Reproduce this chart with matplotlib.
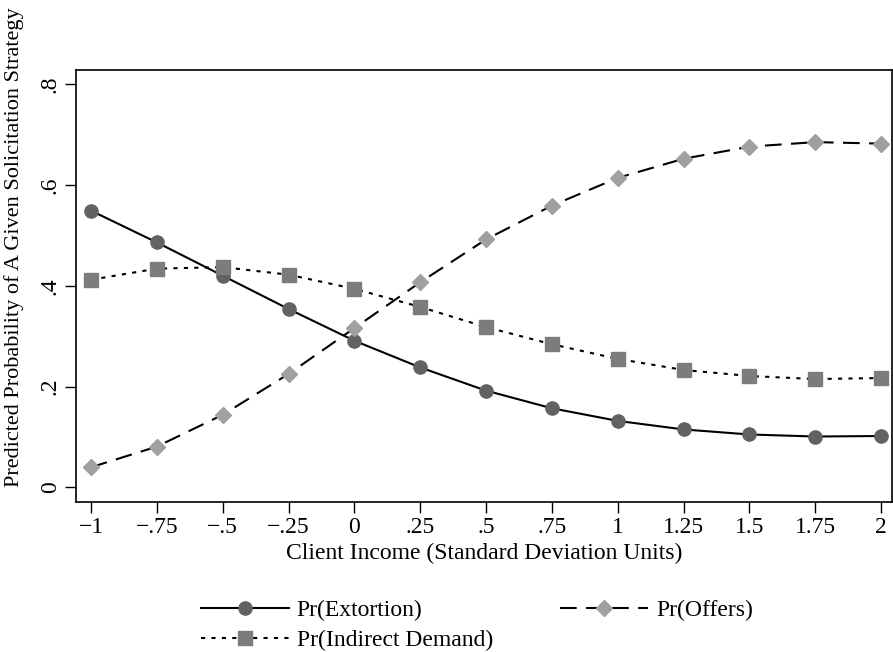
import matplotlib
matplotlib.use('Agg')
import matplotlib.pyplot as plt

# client income, SD units
income = [-1, -0.75, -0.5, -0.25, 0, 0.25, 0.5, 0.75, 1, 1.25, 1.5, 1.75, 2]
tick_labels = ['\u22121', '\u2212.75', '\u2212.5', '\u2212.25', '0', '.25', '.5', '.75',
               '1', '1.25', '1.5', '1.75', '2']

# predicted probabilities
pr_extortion = [0.549, 0.486, 0.420, 0.354, 0.291, 0.238, 0.192, 0.157, 0.132, 0.115, 0.105, 0.101, 0.102]
pr_offers = [0.040, 0.081, 0.144, 0.225, 0.316, 0.407, 0.492, 0.559, 0.614, 0.652, 0.676, 0.685, 0.682]
pr_indirect = [0.412, 0.434, 0.437, 0.422, 0.394, 0.358, 0.318, 0.284, 0.255, 0.233, 0.221, 0.215, 0.217]

y_ticks = [0, 0.2, 0.4, 0.6, 0.8]
y_labels = ['0', '.2', '.4', '.6', '.8']

plt.rcParams['font.family'] = ['Liberation Serif', 'DejaVu Serif']
plt.rcParams['font.size'] = 17

fig = plt.figure(figsize=(8.93, 6.52), dpi=100)
ax = fig.add_axes([0.0851, 0.230, 0.914, 0.6626])

l1, = ax.plot(income, pr_extortion, color='black', linewidth=1.5, linestyle='-',
              marker='o', markersize=9.5, markerfacecolor='#626262', markeredgecolor='#626262')
l2, = ax.plot(income, pr_offers, color='black', linewidth=1.5, linestyle=(0, (8, 4.5)),
              marker='D', markersize=8.5, markerfacecolor='#a0a0a0', markeredgecolor='#a0a0a0')
l3, = ax.plot(income, pr_indirect, color='black', linewidth=1.5, linestyle=(0, (2, 3)),
              marker='s', markersize=9.5, markerfacecolor='#7c7c7c', markeredgecolor='#7c7c7c')

ax.set_xlim(-1.057, 2.042)
ax.set_ylim(-0.029, 0.828)
ax.set_xticks(income)
ax.set_xticklabels(tick_labels)
ax.set_yticks(y_ticks)
ax.set_yticklabels(y_labels, rotation=90, va='center')
ax.tick_params(direction='out', length=8, width=1, pad=3)
for s in ax.spines.values():
    s.set_linewidth(1.2)

ax.set_xlabel('Client Income (Standard Deviation Units)', labelpad=3)
fig.text(0.016, 0.621, 'Predicted Probability of A Given Solicitation Strategy',
         rotation=90, ha='center', va='center', fontsize=16)

fig.legend([l1, l3, l2], ['Pr(Extortion)', 'Pr(Indirect Demand)', 'Pr(Offers)'],
           loc='lower left', bbox_to_anchor=(200 / 893, 0.0), ncol=2, frameon=False,
           numpoints=1, handlelength=3.7, columnspacing=2.85, labelspacing=0.35,
           handletextpad=0.35, borderaxespad=0, borderpad=0.05)

fig.savefig('out.png', dpi=100)
